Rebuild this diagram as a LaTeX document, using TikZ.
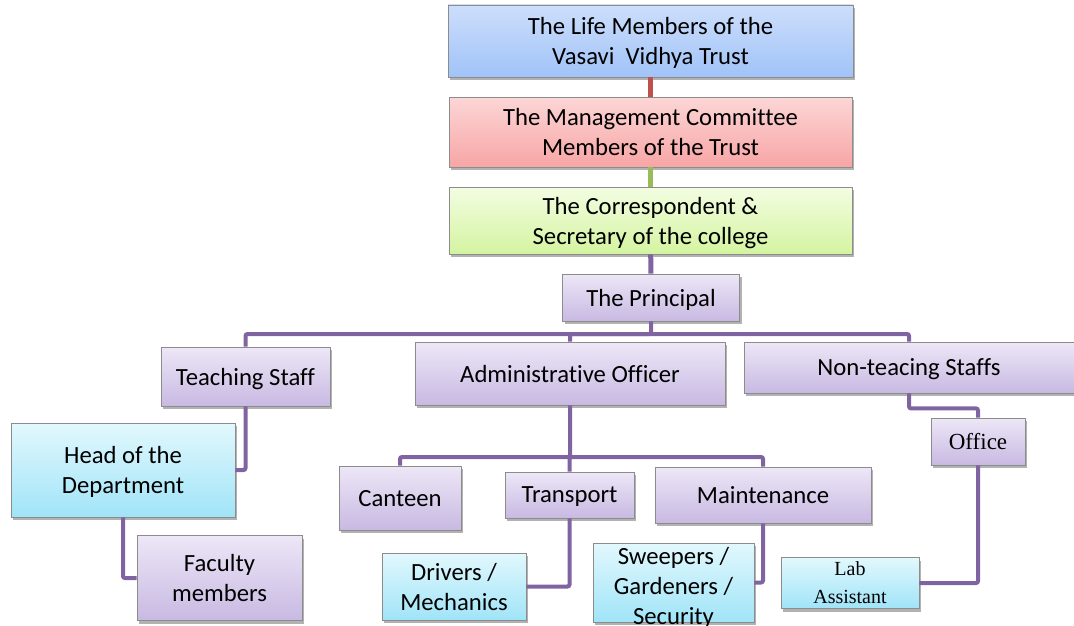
\documentclass[tikz,border=0pt]{standalone}
\usepackage{fontspec}
\setmainfont[Ligatures=NoCommon]{Carlito}
\newfontfamily\labfont{Liberation Serif}
\usepackage{tikz}
\usetikzlibrary{shadows}
\definecolor{lineP}{RGB}{128, 100, 162}
\definecolor{lineR}{RGB}{192, 80, 77}
\definecolor{lineG}{RGB}{155, 187, 89}
\definecolor{rim}{RGB}{140, 140, 140}
\definecolor{pTop}{RGB}{237, 231, 247}
\definecolor{pBot}{RGB}{200, 185, 226}
\definecolor{cTop}{RGB}{226, 248, 253}
\definecolor{cBot}{RGB}{160, 228, 248}
\definecolor{bTop}{RGB}{205, 222, 251}
\definecolor{bBot}{RGB}{160, 195, 248}
\definecolor{rTop}{RGB}{252, 214, 214}
\definecolor{rBot}{RGB}{248, 165, 165}
\definecolor{gTop}{RGB}{243, 253, 226}
\definecolor{gBot}{RGB}{212, 244, 160}
\tikzset{
  orgbox/.style={draw=rim,line width=0.8pt,rectangle,align=center,inner sep=1pt,text depth=0pt,
    font=\fontsize{24.7}{30}\selectfont,
    drop shadow={shadow xshift=2pt,shadow yshift=-3pt,fill=black,opacity=0.3}},
  pbox/.style={orgbox,top color=pTop,bottom color=pBot},
  cbox/.style={orgbox,top color=cTop,bottom color=cBot},
  bbox/.style={orgbox,top color=bTop,bottom color=bBot},
  rbox/.style={orgbox,top color=rTop,bottom color=rBot},
  gbox/.style={orgbox,top color=gTop,bottom color=gBot},
  link/.style={draw=lineP,line width=4pt,rounded corners=2pt}
}
\newcommand{\orgnode}[7]{\node[#4,minimum width=#5pt,minimum height=#6pt] (#3) at (#1,#2) {#7};}

\begin{document}
\begin{tikzpicture}[x=1pt,y=-1pt]
\useasboundingbox (0,0) rectangle (1074,626);
\orgnode{650.5}{41}{life}{bbox}{405}{72}{The Life Members of the\\Vasavi~~Vidhya Trust}
\orgnode{650.5}{132}{mgmt}{rbox}{403}{70}{The Management Committee\\Members of the Trust}
\orgnode{650.5}{220.5}{corr}{gbox}{403}{67}{The Correspondent \&\\Secretary of the college}
\orgnode{651}{297.5}{prin}{pbox}{177}{47}{The Principal}
\orgnode{245.5}{376.5}{teach}{pbox}{169}{59}{Teaching Staff}
\orgnode{570}{373.5}{admin}{pbox}{310}{63}{Administrative Officer}
\orgnode{909}{367.5}{nonteach}{pbox}{330}{51}{Non-teacing Staffs}
\orgnode{978}{441.5}{office}{pbox,font=\labfont\fontsize{23}{28}\selectfont}{94}{47}{Office}
\orgnode{123}{470}{head}{cbox}{224}{94}{Head of the\\Department}
\orgnode{219.5}{578}{faculty}{pbox}{165}{85}{Faculty\\members}
\orgnode{400}{498}{canteen}{pbox}{122}{64}{Canteen}
\orgnode{569.5}{495}{transport}{pbox}{129}{46}{Transport}
\orgnode{763}{495}{maint}{pbox}{216}{56}{Maintenance}
\orgnode{454}{586.5}{drivers}{cbox}{144}{67}{Drivers /\\Mechanics}
\orgnode{673.5}{582.5}{sweep}{cbox,label={[align=center,text depth=0pt,yshift=-3pt,font=\fontsize{24.7}{30}\selectfont]center:Sweepers /\\Gardeners /\\Security}}{161}{79}{}
\orgnode{850}{583}{lab}{cbox,font=\labfont\fontsize{20}{28}\selectfont}{138}{51}{Lab\\Assistant}

\coordinate (fan) at (651,334);
\coordinate (abus) at (570,457);

\draw[draw=lineR,line width=5pt] (life) -- (mgmt);
\draw[draw=lineG,line width=5pt] (mgmt) -- (corr);
\draw[draw=lineP,line width=5pt] (corr) -- (prin);
\draw[link] (prin.south) -- (fan) -| (teach.north);
\draw[link] (fan) -| (admin.north);
\draw[link] (fan) -| (nonteach.north);
\draw[link] (teach.south) |- (head.east);
\draw[link] (head.south) |- (faculty.west);
\draw[link] (admin.south) -- (abus) -| (canteen.north);
\draw[link] (abus) -| (transport.north);
\draw[link] (abus) -| (maint.north);
\draw[link] (transport.south) |- (drivers.east);
\draw[link] (maint.south) |- (sweep.east);
\draw[link] (nonteach.south) -- ++(0,15) -| (office.north);
\draw[link] (office.south) |- (lab.east);
\end{tikzpicture}
\end{document}
